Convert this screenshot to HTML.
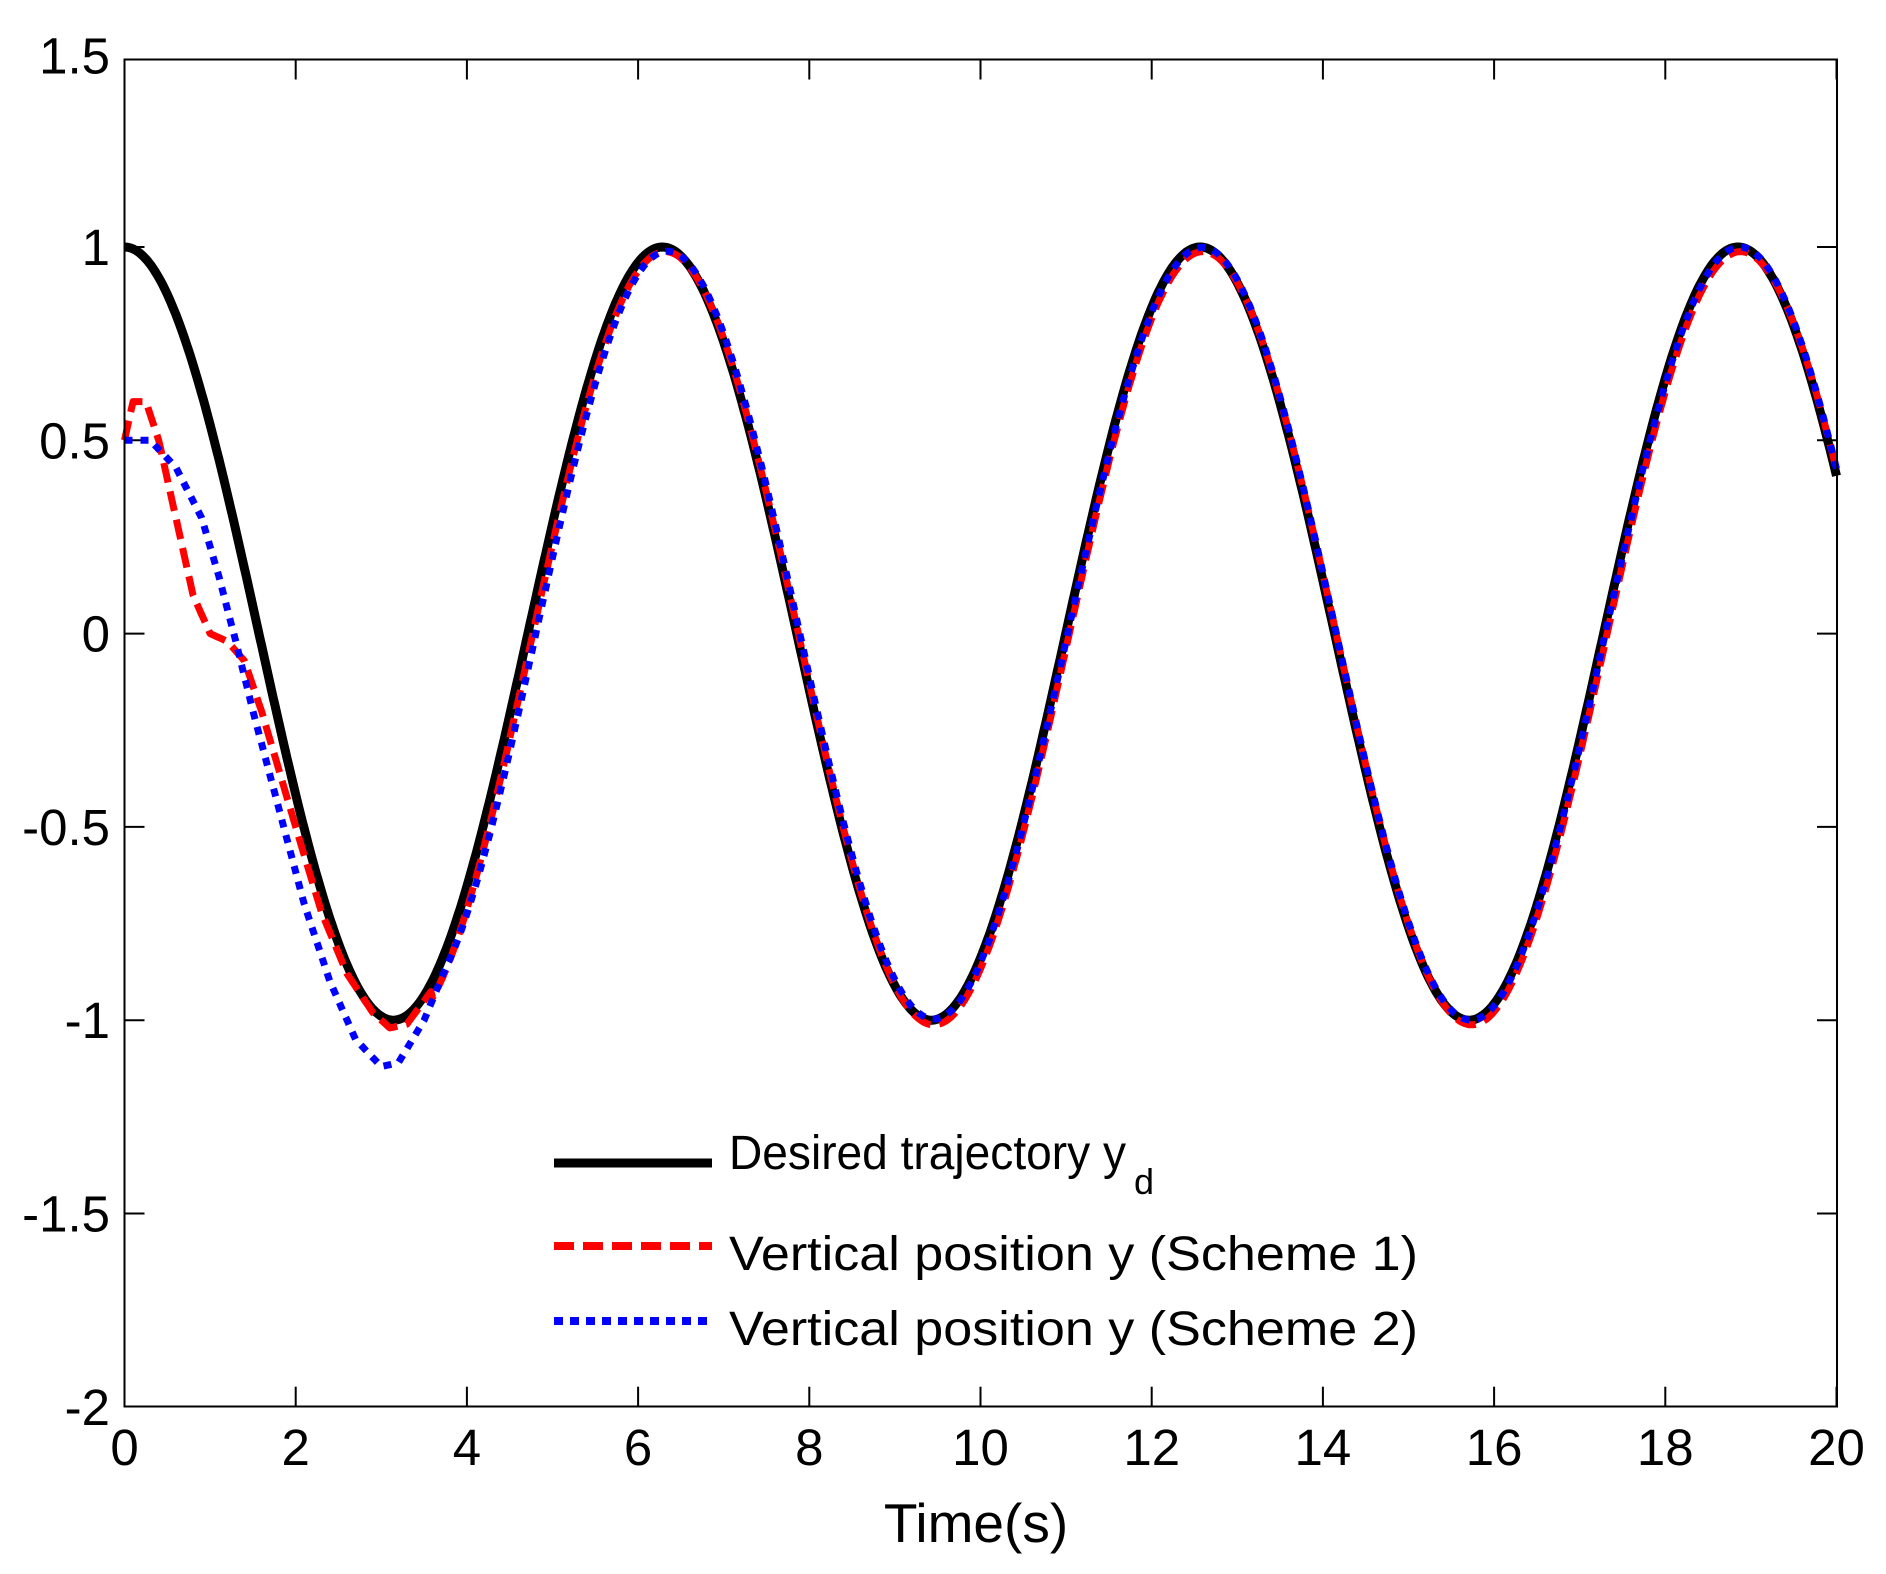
<!DOCTYPE html>
<html><head><meta charset="utf-8"><style>
html,body{margin:0;padding:0;background:#fff;}
svg{display:block;}
text{font-family:"Liberation Sans",Arial,sans-serif;fill:#000;}
</style></head><body>
<svg id="s" width="1886" height="1574" viewBox="0 0 1886 1574" xmlns="http://www.w3.org/2000/svg">
<rect x="0" y="0" width="1886" height="1574" fill="#fff"/>
<g id="ticks" stroke="#000" stroke-width="2"></g>
<g id="curves" fill="none" stroke-linejoin="round"></g>
<rect x="124.5" y="59.5" width="1712.5" height="1347" fill="none" stroke="#000" stroke-width="2"/>
<g id="labels" font-size="51"></g>
<text x="976" y="1542" font-size="55" text-anchor="middle">Time(s)</text>
<line x1="554" y1="1163" x2="712" y2="1163" stroke="#000" stroke-width="9"/>
<line x1="554" y1="1246" x2="712" y2="1246" stroke="#f00" stroke-width="8" stroke-dasharray="20 9"/>
<line x1="554" y1="1321" x2="712" y2="1321" stroke="#00f" stroke-width="8" stroke-dasharray="9 7"/>
<text x="729" y="1169" font-size="48" textLength="397" lengthAdjust="spacingAndGlyphs">Desired trajectory y</text>
<text x="1134" y="1194" font-size="36">d</text>
<text x="729" y="1270" font-size="48" textLength="689" lengthAdjust="spacingAndGlyphs">Vertical position y (Scheme 1)</text>
<text x="729" y="1345" font-size="48" textLength="689" lengthAdjust="spacingAndGlyphs">Vertical position y (Scheme 2)</text>
</svg>
<script>
var X0=124.5,XS=85.6,Y1=247,YS=386.6;
function px(t){return X0+t*XS;}
function py(v){return Y1+(1-v)*YS;}
var NS="http://www.w3.org/2000/svg";
function el(parent,tag,attrs,txt){var e=document.createElementNS(NS,tag);for(var k in attrs)e.setAttribute(k,attrs[k]);if(txt!==undefined)e.textContent=txt;document.getElementById(parent).appendChild(e);return e;}
for(var i=0;i<=10;i++){var t=i*2,x=px(t);
 el("ticks","line",{x1:x,y1:1406.7,x2:x,y2:1386.7});
 el("ticks","line",{x1:x,y1:59.5,x2:x,y2:79.5});
 el("labels","text",{x:x,y:1465,"text-anchor":"middle"},String(t));}
var yl=[1.5,1,0.5,0,-0.5,-1,-1.5,-2];
for(var j=0;j<yl.length;j++){var v=yl[j],y=(v==1.5)?59.5:py(v);
 if(v!=1.5&&v!=-2){
 el("ticks","line",{x1:124.5,y1:y,x2:144.5,y2:y});
 el("ticks","line",{x1:1837,y1:y,x2:1817,y2:y});}
 el("labels","text",{x:110,y:y+(v==1.5?14:18),"text-anchor":"end"},String(v));}
function interp(pts,t){for(var i=0;i<pts.length-1;i++){if(t<=pts[i+1][0]){var a=pts[i],b=pts[i+1],u=(t-a[0])/(b[0]-a[0]);
 return a[1]+(b[1]-a[1])*u;}}return pts[pts.length-1][1];}
var s1=[[0,0.5],[0.1,0.6],[0.25,0.6],[0.4,0.5],[0.6,0.3],[0.8,0.1],[1.0,0.0],[1.2,-0.02],[1.4,-0.07],[1.6,-0.2],[1.8,-0.35],[2.0,-0.5],[2.3,-0.72],[2.6,-0.88],[2.9,-0.98],[3.1,-1.02],[3.3,-1.01],[3.6,-0.92]];
var s2=[[0,0.5],[0.3,0.5],[0.6,0.43],[0.9,0.3],[1.1,0.15],[1.3,-0.02],[1.5,-0.2],[1.8,-0.45],[2.1,-0.7],[2.4,-0.9],[2.7,-1.05],[3.0,-1.12],[3.2,-1.11],[3.5,-1.0],[3.8,-0.84]];
function f0(t){return Math.cos(t);}
function f1(t){if(t<=3.6)return interp(s1,t);var d=0.03+0.05*Math.exp(-(t-3.6));return Math.cos(t-d)-0.012;}
function f2(t){if(t<=3.8)return interp(s2,t);var d=0.02+0.12*Math.exp(-(t-3.8)/2);var a=1-0.03*Math.exp(-(t-3.8)/2.5);return a*Math.cos(t-d);}
function path(f,step){var d="";for(var t=0;t<=20.0001;t+=step){d+=(d?"L":"M")+px(t).toFixed(1)+","+py(f(t)).toFixed(1);}return d;}
el("curves","path",{d:path(f0,0.02),stroke:"#000","stroke-width":9});
el("curves","path",{d:path(f1,0.02),stroke:"#f00","stroke-width":7,"stroke-dasharray":"20 9"});
el("curves","path",{d:path(f2,0.02),stroke:"#00f","stroke-width":7,"stroke-dasharray":"8 8"});
</script>
</body></html>
